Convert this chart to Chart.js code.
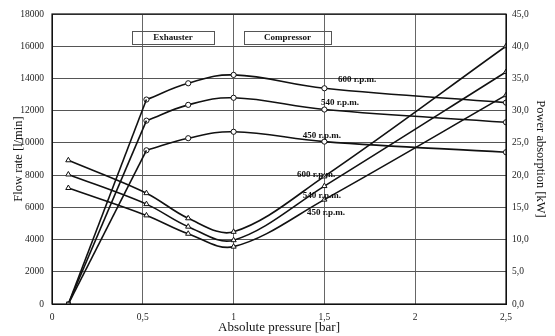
<!DOCTYPE html>
<html>
<head>
<meta charset="utf-8">
<script src="https://cdn.jsdelivr.net/npm/chart.js@4.4.1/dist/chart.umd.min.js"></script>
<style>
  html, body { margin: 0; padding: 0; background: #fff; }
  #chart { display: block; }
</style>
</head>
<body>
<canvas id="chart" width="555" height="336"></canvas>
<script>
// Pressure values (bar) where the curves have markers
const pressure = [0.09, 0.52, 0.75, 1.0, 1.5, 2.5];

// Flow rate [l/min] (left axis)
const flow600 = [0, 12690, 13700, 14220, 13390, 12500];
const flow540 = [0, 11380, 12360, 12800, 12070, 11280];
const flow450 = [0, 9540, 10290, 10690, 10080, 9420];

// Power absorption [kW] (right axis)
const power600 = [22.3, 17.2, 13.3, 11.2, 19.8, 40.0];
const power540 = [20.1, 15.5, 12.0, 9.9, 18.3, 36.0];
const power450 = [18.0, 13.75, 10.9, 8.9, 16.2, 32.4];

const speedLabels = ["600 r.p.m.", "540 r.p.m.", "450 r.p.m."];

const serif = "'Liberation Serif', 'DejaVu Serif', serif";

function toPoints(xs, ys) {
  return xs.map(function (x, i) {
    return { x: x, y: ys[i] };
  });
}

// Ramp from origin to first measured point is straight, the rest is smooth
function flowDatasets(values) {
  const pts = toPoints(pressure, values);
  return [
    {
      data: pts.slice(0, 2),
      yAxisID: "y",
      borderColor: "#111",
      borderWidth: 1.6,
      tension: 0,
      pointStyle: "rect",
      pointRadius: [2.5, 0],
      pointBackgroundColor: "#fff",
      pointBorderColor: "#111",
      pointBorderWidth: 1,
    },
    {
      data: pts.slice(1),
      yAxisID: "y",
      borderColor: "#111",
      borderWidth: 1.6,
      tension: 0.4,
      pointStyle: "circle",
      pointRadius: 2.6,
      pointBackgroundColor: "#fff",
      pointBorderColor: "#111",
      pointBorderWidth: 1,
    },
  ];
}

function powerDataset(values) {
  return {
    data: toPoints(pressure, values),
    yAxisID: "y2",
    borderColor: "#111",
    borderWidth: 1.6,
    tension: 0.35,
    pointStyle: "triangle",
    pointRadius: 3,
    pointBackgroundColor: "#fff",
    pointBorderColor: "#111",
    pointBorderWidth: 1,
  };
}

// Text labels and boxes placed in data coordinates
const boxes = [
  { text: "Exhauster", x0: 0.44, x1: 0.892, y0: 16975, y1: 16170 },
  { text: "Compressor", x0: 1.058, x1: 1.536, y0: 16975, y1: 16170 },
];
const curveNotes = [
  { text: speedLabels[0], x: 1.68, y: 13930 },
  { text: speedLabels[1], x: 1.586, y: 12500 },
  { text: speedLabels[2], x: 1.486, y: 10450 },
  { text: speedLabels[0], x: 1.454, y: 8030 },
  { text: speedLabels[1], x: 1.486, y: 6730 },
  { text: speedLabels[2], x: 1.509, y: 5670 },
];

const notesPlugin = {
  id: "notes",
  afterDatasetsDraw: function (chart) {
    const ctx = chart.ctx;
    const xs = chart.scales.x;
    const ys = chart.scales.y;
    ctx.save();
    ctx.font = "bold 9px " + serif;
    ctx.fillStyle = "#111";
    ctx.textAlign = "center";
    ctx.textBaseline = "middle";

    boxes.forEach(function (b) {
      const l = xs.getPixelForValue(b.x0);
      const r = xs.getPixelForValue(b.x1);
      const t = ys.getPixelForValue(b.y0);
      const bt = ys.getPixelForValue(b.y1);
      ctx.strokeStyle = "#555";
      ctx.lineWidth = 1;
      ctx.strokeRect(Math.round(l) + 0.5, Math.round(t) + 0.5, Math.round(r - l), Math.round(bt - t));
      ctx.fillText(b.text, (l + r) / 2, (t + bt) / 2 + 0.5);
    });

    curveNotes.forEach(function (n) {
      ctx.fillText(n.text, xs.getPixelForValue(n.x), ys.getPixelForValue(n.y));
    });

    // frame round the plot area
    const a = chart.chartArea;
    ctx.strokeStyle = "#111";
    ctx.lineWidth = 1.2;
    ctx.strokeRect(a.left, a.top, a.right - a.left, a.bottom - a.top);
    ctx.restore();
  },
};

const datasets = []
  .concat(flowDatasets(flow600))
  .concat(flowDatasets(flow540))
  .concat(flowDatasets(flow450))
  .concat([powerDataset(power600), powerDataset(power540), powerDataset(power450)]);

new Chart(document.getElementById("chart").getContext("2d"), {
  type: "line",
  data: { datasets: datasets },
  plugins: [notesPlugin],
  options: {
    responsive: false,
    animation: false,
    layout: { padding: { top: 14, left: 0, right: 0, bottom: 0 } },
    plugins: {
      legend: { display: false },
      tooltip: { enabled: false },
    },
    scales: {
      x: {
        type: "linear",
        min: 0,
        max: 2.5,
        afterFit: function (scale) {
          scale.height = 32;
        },
        ticks: {
          stepSize: 0.5,
          padding: 8,
          color: "#222",
          font: { family: serif, size: 9.5 },
          callback: function (v) {
            return String(v).replace(".", ",");
          },
        },
        grid: { color: "#666", lineWidth: 1, drawTicks: false },
        border: { color: "#111", width: 1 },
        title: {
          display: true,
          text: "Absolute pressure [bar]",
          color: "#111",
          font: { family: serif, size: 13 },
          padding: { top: 0, bottom: 1 },
        },
      },
      y: {
        type: "linear",
        position: "left",
        min: 0,
        max: 18000,
        afterFit: function (scale) {
          scale.width = 52;
        },
        ticks: {
          stepSize: 2000,
          padding: 8,
          color: "#222",
          font: { family: serif, size: 9.5 },
          callback: function (v) {
            return String(v);
          },
        },
        grid: { color: "#555", lineWidth: 1, drawTicks: false },
        border: { color: "#111", width: 1 },
        title: {
          display: true,
          text: "Flow rate [l/min]",
          color: "#111",
          font: { family: serif, size: 12.5 },
          padding: { top: 11, bottom: 0 },
        },
      },
      y2: {
        type: "linear",
        position: "right",
        min: 0,
        max: 45,
        afterFit: function (scale) {
          scale.width = 49;
        },
        ticks: {
          stepSize: 5,
          padding: 6,
          color: "#222",
          font: { family: serif, size: 9.5 },
          callback: function (v) {
            return v.toFixed(1).replace(".", ",");
          },
        },
        grid: { display: false, drawTicks: false },
        border: { color: "#111", width: 1 },
        title: {
          display: true,
          text: "Power absorption [kW]",
          color: "#111",
          font: { family: serif, size: 12.5 },
          padding: { top: 7, bottom: 0 },
        },
      },
    },
  },
});
</script>
</body>
</html>
